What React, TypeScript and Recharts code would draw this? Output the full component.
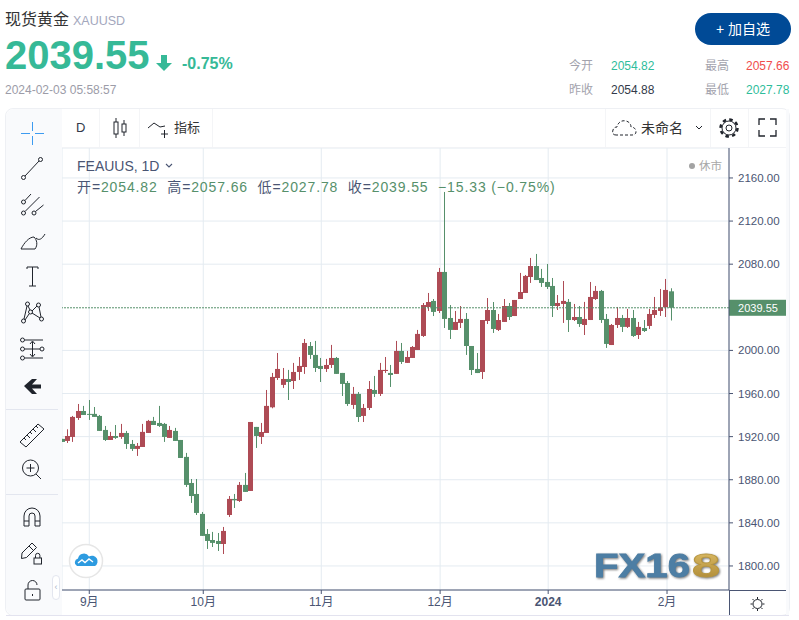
import React from "react";
import {
  ComposedChart,
  Bar,
  XAxis,
  YAxis,
  CartesianGrid,
  ReferenceLine,
} from "recharts";

const opens = [
  1917.9, 1916.0, 1919.7, 1937.3, 1943.8, 1941.1, 1941.1, 1939.2, 1926.2, 1916.9,
  1920.6, 1919.7, 1923.4, 1913.2, 1908.6, 1910.4, 1923.4, 1934.6, 1932.7, 1931.8,
  1918.8, 1925.3, 1916.9, 1901.2, 1877.0, 1866.8, 1848.3, 1829.7, 1824.1, 1823.2,
  1820.4, 1847.3, 1862.2, 1860.3, 1875.2, 1869.6, 1929.0, 1919.7, 1923.4, 1947.2,
  1974.4, 1968.0, 1973.5, 1971.6, 1980.0, 1984.6, 2004.1, 1995.8, 1985.6, 1982.8,
  1986.5, 1993.0, 1979.1, 1969.8, 1949.4, 1959.6, 1939.2, 1946.6, 1963.3, 1959.6,
  1980.9, 1979.1, 1978.2, 1999.5, 1988.4, 1993.0, 2000.4, 2013.4, 2040.3, 2045.9,
  2036.6, 2072.8, 2030.1, 2019.0, 2025.5, 2029.2, 2004.1, 1982.8, 1980.0, 2027.3,
  2037.5, 2019.0, 2026.4, 2041.2, 2031.9, 2047.7, 2053.3, 2068.1, 2078.3, 2067.2,
  2063.5, 2059.8, 2041.2, 2043.1, 2045.0, 2028.2, 2031.0, 2023.6, 2028.2, 2047.7,
  2055.2, 2029.2, 2005.0, 2023.6, 2030.1, 2021.8, 2030.1, 2014.3, 2020.8, 2022.7,
  2032.9, 2036.6, 2040.0, 2054.82,
];
const highs = [
  1917.9, 1926.8, 1939.2, 1950.3, 1948.5, 1954.0, 1947.5, 1940.1, 1929.9, 1924.4,
  1930.8, 1931.8, 1925.3, 1916.9, 1914.1, 1931.8, 1935.5, 1938.3, 1948.5, 1932.7,
  1929.9, 1928.1, 1916.9, 1904.9, 1880.7, 1880.7, 1850.1, 1834.3, 1831.6, 1830.6,
  1836.2, 1864.9, 1866.8, 1877.9, 1886.3, 1933.6, 1929.0, 1932.7, 1963.3, 1979.1,
  1997.6, 1983.7, 1981.9, 1988.4, 1993.9, 2010.6, 2007.8, 2008.8, 1993.0, 1992.1,
  2005.1, 1993.9, 1979.1, 1971.6, 1966.1, 1961.4, 1950.3, 1971.6, 1976.3, 1988.4,
  1993.9, 1986.5, 2008.8, 2006.9, 1999.5, 2004.1, 2019.0, 2044.0, 2053.3, 2047.7,
  2076.5, 2147.0, 2042.1, 2036.6, 2041.2, 2034.7, 2004.1, 1997.6, 2028.2, 2048.6,
  2044.9, 2033.8, 2047.7, 2044.0, 2046.8, 2071.9, 2070.0, 2085.8, 2089.5, 2075.6,
  2080.2, 2067.2, 2051.4, 2064.4, 2047.7, 2043.1, 2041.2, 2045.0, 2063.5, 2059.8,
  2056.1, 2033.8, 2024.5, 2040.3, 2032.9, 2038.5, 2037.5, 2026.4, 2028.2, 2038.5,
  2049.6, 2057.0, 2066.3, 2057.66,
];
const lows = [
  1915.1, 1914.1, 1915.1, 1935.5, 1940.1, 1935.5, 1938.3, 1925.3, 1916.0, 1916.9,
  1917.9, 1917.9, 1908.6, 1906.7, 1902.1, 1910.4, 1923.4, 1930.8, 1929.0, 1915.1,
  1918.8, 1916.0, 1900.2, 1873.3, 1858.5, 1847.3, 1827.9, 1815.8, 1817.6, 1813.9,
  1811.1, 1845.5, 1853.8, 1859.4, 1868.7, 1869.6, 1909.5, 1913.2, 1923.4, 1946.3,
  1972.6, 1965.2, 1954.0, 1964.2, 1972.6, 1978.2, 1992.1, 1980.0, 1970.7, 1980.0,
  1983.7, 1978.2, 1957.7, 1948.5, 1945.7, 1933.6, 1933.6, 1944.7, 1956.8, 1957.7,
  1979.1, 1966.1, 1978.2, 1987.4, 1988.4, 1993.0, 2000.4, 2012.5, 2036.6, 2031.9,
  2034.7, 2020.8, 2010.6, 2019.0, 2020.8, 1995.8, 1977.2, 1979.0, 1973.5, 2024.5,
  2016.2, 2018.0, 2026.4, 2028.2, 2031.9, 2047.7, 2053.3, 2062.6, 2065.3, 2058.9,
  2057.0, 2031.0, 2037.5, 2025.5, 2017.1, 2027.3, 2021.8, 2014.3, 2028.2, 2046.8,
  2025.5, 2002.3, 2005.0, 2020.8, 2017.1, 2020.8, 2012.5, 2010.6, 2017.1, 2019.9,
  2030.1, 2032.0, 2031.0, 2027.78,
];
const closes = [
  1915.1, 1920.6, 1938.3, 1943.8, 1940.1, 1940.4, 1938.3, 1925.3, 1916.9, 1920.6,
  1918.8, 1923.4, 1913.2, 1908.6, 1911.4, 1924.4, 1934.6, 1930.8, 1929.9, 1919.7,
  1926.2, 1916.0, 1900.2, 1875.2, 1864.9, 1849.2, 1827.9, 1823.2, 1821.4, 1820.4,
  1832.5, 1862.2, 1860.9, 1875.2, 1868.7, 1933.6, 1920.6, 1924.3, 1948.5, 1975.4,
  1982.8, 1973.5, 1970.7, 1980.0, 1985.6, 2006.9, 1995.8, 1983.7, 1982.8, 1986.5,
  1993.0, 1978.2, 1968.9, 1950.3, 1959.6, 1938.2, 1946.6, 1964.2, 1959.6, 1981.9,
  1981.9, 1977.2, 1999.5, 1989.3, 1993.9, 2003.2, 2015.3, 2042.1, 2044.9, 2035.7,
  2072.8, 2029.2, 2019.0, 2026.4, 2029.2, 2004.1, 1981.8, 1979.0, 2028.2, 2037.5,
  2019.9, 2028.2, 2041.2, 2031.0, 2046.8, 2054.2, 2069.1, 2078.3, 2065.3, 2062.6,
  2058.9, 2041.2, 2044.0, 2045.9, 2028.2, 2031.0, 2024.5, 2029.2, 2049.6, 2055.2,
  2028.2, 2006.0, 2023.6, 2030.1, 2021.8, 2030.1, 2013.4, 2021.8, 2018.0, 2033.8,
  2037.5, 2040.0, 2056.1, 2039.55,
];

const priceTicks = [1800, 1840, 1880, 1920, 1960, 2000, 2080, 2120, 2160];
const monthTicks = [5.1, 26.25, 48.15, 70.2, 90.25, 112.3];
const monthLabels = ["9月", "10月", "11月", "12月", "2024", "2月"];
const lastPrice = 2039.55;

const candles = opens.map((open, i) => ({
  i,
  open,
  close: closes[i],
  high: highs[i],
  low: lows[i],
  range: [lows[i], highs[i]],
}));

const UP = "#ae4b55";
const DOWN = "#56906b";
const AXIS = "#4a5573";
const GRID = "#e4ebf1";
const TEAL = "#36b997";
const FONT = '"Liberation Sans","Noto Sans CJK SC",sans-serif';

function Candle(props: any) {
  const { x, y, width, height, payload } = props;
  const color = payload.close >= payload.open ? UP : DOWN;
  const perUnit = height / (payload.high - payload.low);
  const top = y + (payload.high - Math.max(payload.open, payload.close)) * perUnit;
  const h = Math.max(1, Math.abs(payload.open - payload.close) * perUnit);
  const mid = Math.round(x + width / 2);
  return (
    <g>
      <rect x={mid} y={y} width={1} height={height} fill={color} />
      <rect x={mid - 2} y={top} width={5} height={h} fill={color} />
    </g>
  );
}

function MonthTick(props: any) {
  const { x, y, payload } = props;
  const label = monthLabels[monthTicks.indexOf(payload.value)];
  return (
    <text
      x={x}
      y={y + 10}
      textAnchor="middle"
      fontSize={12}
      fontWeight={label === "2024" ? 700 : 400}
      fill={AXIS}
    >
      {label}
    </text>
  );
}

function PriceTag(props: any) {
  const { viewBox } = props;
  const left = viewBox.x + viewBox.width;
  return (
    <g>
      <rect x={left} y={viewBox.y - 8} width={58} height={16} fill={DOWN} />
      <text x={left + 29} y={viewBox.y + 4} textAnchor="middle" fontSize={11} fill="#fff">
        {lastPrice.toFixed(2)}
      </text>
    </g>
  );
}

function Txt(props: any) {
  const { x, y, size = 12, color = "#333", weight = 400, spacing = 0, children } = props;
  return (
    <div
      style={{
        position: "absolute",
        left: x,
        top: y - 12,
        height: 24,
        lineHeight: "24px",
        fontSize: size,
        color,
        fontWeight: weight,
        letterSpacing: spacing,
        whiteSpace: "pre",
      }}
    >
      {children}
    </div>
  );
}

function Icons() {
  const s = { fill: "none", stroke: "#20242c", strokeWidth: 1 };
  return (
    <svg
      width={799}
      height={620}
      style={{ position: "absolute", left: 0, top: 0, pointerEvents: "none" }}
    >
      <defs>
        <linearGradient id="gold" x1="0" y1="0" x2="0" y2="1">
          <stop offset="0" stopColor="#e0c06a" />
          <stop offset="1" stopColor="#a98430" />
        </linearGradient>
      </defs>

      {/* watermark */}
      <g style={{ filter: "drop-shadow(1px 1px 1px #777)" }}>
        <text x={594} y={577} fontSize={33} fontWeight={700} fill="#4d7ea4" textLength={96} lengthAdjust="spacingAndGlyphs" stroke="#4d7ea4" strokeWidth={0.8}>
          FX16
        </text>
        <text x={692} y={577} fontSize={33} fontWeight={700} fill="url(#gold)" textLength={28} lengthAdjust="spacingAndGlyphs" stroke="#b8973f" strokeWidth={0.8}>
          8
        </text>
      </g>

      {/* cloud badge */}
      <circle cx={86} cy={561} r={16.5} fill="#fff" stroke="#e6e6e6" strokeWidth={1.5} />
      <path d="M77 566 a4 4 0 0 1 1-7.5 a6 6 0 0 1 11-2 a5 5 0 0 1 6 9.5 z" fill="#2d9be0" />
      <path d="M78 563 l4-3 l3 2.5 l4-3.5 l4 3" fill="none" stroke="#fff" strokeWidth={1.4} />

      {/* left tools */}
      <g stroke="#3d9bf0" strokeWidth={1}>
        <path d="M21 133.5h9M35 133.5h9M32.5 122v9M32.5 136v9" />
      </g>
      <g {...s}>
        <circle cx={23.5} cy={177.5} r={2} />
        <circle cx={40.5} cy={159.5} r={2} />
        <path d="M25 176 39 161" />
        <circle cx={23.5} cy={213} r={2} /><circle cx={23.5} cy={202} r={2} /><circle cx={34} cy={213} r={2} />
        <path d="M25 211.5 39.5 197M25 200.5 31 194M35.5 211.5 43.5 205" />
        <path d="M21 249h14c3-4 2-9-1-12c-5 0-10 6-13 12zM36 238c3 3 6 1 9-4" />
        <path d="M27 267h11M32.5 267v19M29 286h7M27 267v2M38 267v2" />
        <circle cx={23.5} cy={321} r={2} /><circle cx={27.5} cy={304} r={2} /><circle cx={38.5} cy={305} r={2} /><circle cx={30.5} cy={312} r={2} /><circle cx={41.5} cy={319} r={2} />
        <path d="M24 319 27 306M28 306 30 310M32 311 37 306M39 307 41 317M32 313 40 318M25 320 29 314" />
        <circle cx={22.5} cy={340} r={2} /><circle cx={22.5} cy={349} r={2} /><circle cx={22.5} cy={358} r={2} /><circle cx={42} cy={349} r={2} />
        <path d="M25 340h18M25 349h15M25 358h18M32.5 342v14M30 344l2.5-3 2.5 3M30 354l2.5 3 2.5-3" />
        <path d="M20 442 38 424 44 429 26 447zM24 438l2 2M27 435l3 3M30 432l2 2M33 429l3 3M36 426l2 2" />
        <circle cx={30.5} cy={468} r={8} />
        <path d="M36 474 41 479M26.5 468h8M30.5 464v8" />
        <path d="M24 526v-10a8 8 0 0 1 16 0v10M24 521h5M35 521h5M24 526h5v-10a3 3 0 0 1 6 0v10h5" />
        <path d="M22 553l10-10 4.5 4.5-10 10-5 1zM29 546l4.5 4.5" />
        <rect x={34} y={558} width={7.5} height={6} /><path d="M35.5 558v-2.5a2.2 2.2 0 0 1 4.4 0v2.5" />
        <rect x={25} y={589} width={15} height={11} rx={1} />
        <path d="M28 589v-4a4.5 4.5 0 0 1 9 0" />
        <path d="M32.5 594v2" />
      </g>
      <path d="M24 386 32 379h5l-5 5.5h9v4h-9l5 5.5h-5z" fill="#20242c" />

      {/* top tools */}
      <g {...s}>
        <rect x={114} y={122} width={4} height={12} /><path d="M116 118v4M116 134v4" />
        <rect x={122} y={124} width={4} height={8} /><path d="M124 120v4M124 132v4" />
        <path d="M148 128l6-5 6 4 5-1 M161 134h7M164.5 130v8" />
        <path d="M616 135c-3 0-4-2-3-5c.5-2 2-3 4-3c1-5 5-7 9-6c4 1 5 4 5 6c3 0 5 2 5 5c0 2-2 3-4 3z" strokeDasharray="3 2" />
        <path d="M696 126l3 3 3-3" />
        <circle cx={729} cy={128} r={3} />
        <circle cx={729} cy={128} r={7} />
        <circle cx={729} cy={128} r={8.5} strokeWidth={2.5} strokeDasharray="3.5 3.17" />
        <path d="M759 125v-6h6M770 119h6v6M776 130v6h-6M765 136h-6v-6" strokeWidth={1.3} />
      </g>
      <g stroke={s.stroke} fill="none">
        <circle cx={757.5} cy={604} r={4.5} />
        <path d="M757.5 597v2M757.5 609v2M750.5 604h2M762.5 604h2M752.5 599l1.5 1.5M761 607.5l1.5 1.5M752.5 609l1.5-1.5M761 600.5l1.5-1.5" />
      </g>
      <path d="M166 164l3 3 3-3" fill="none" stroke={AXIS} strokeWidth={1.1} />

      {/* price arrow */}
      <path d="M161 55h6v8h5l-8 8-8-8h5z" fill={TEAL} />
    </svg>
  );
}

export default function App() {
  return (
    <div
      style={{
        position: "absolute",
        left: 0,
        top: 0,
        width: 799,
        height: 620,
        overflow: "hidden",
        background: "#fff",
        fontFamily: FONT,
      }}
    >
      {/* header */}
      <Txt x={5} y={20} size={16} color="#333">现货黄金</Txt>
      <Txt x={73} y={21} size={12.5} color="#a3a7bd">XAUUSD</Txt>
      <Txt x={5} y={55} size={40} color={TEAL} weight={700}>2039.55</Txt>
      <Txt x={182} y={64} size={16} color={TEAL} weight={700}>-0.75%</Txt>
      <Txt x={5} y={90} size={12} color="#9c9ca8">2024-02-03 05:58:57</Txt>
      <div
        style={{
          position: "absolute",
          left: 695,
          top: 13,
          width: 96,
          height: 32,
          borderRadius: 16,
          background: "#004a96",
          color: "#fff",
          fontSize: 14,
          lineHeight: "32px",
          textAlign: "center",
        }}
      >
        + 加自选
      </div>
      <Txt x={569} y={66} color="#a3a3ad">今开</Txt>
      <Txt x={611} y={66} color="#2fbd9b">2054.82</Txt>
      <Txt x={705} y={66} color="#a3a3ad">最高</Txt>
      <Txt x={746} y={66} color="#f04d4d">2057.66</Txt>
      <Txt x={569} y={90} color="#a3a3ad">昨收</Txt>
      <Txt x={611} y={90} color="#333a4a">2054.88</Txt>
      <Txt x={705} y={90} color="#a3a3ad">最低</Txt>
      <Txt x={746} y={90} color="#2fbd9b">2027.78</Txt>

      {/* panel */}
      <div
        style={{
          position: "absolute",
          left: 5,
          top: 108,
          width: 785,
          height: 508,
          boxSizing: "border-box",
          border: "1px solid #eef0f4",
          borderRadius: 8,
          background: "#fff",
        }}
      />

      <div style={{ position: "absolute", left: 62, top: 148 }}>
        <ComposedChart
          width={725}
          height={468}
          data={candles}
          margin={{ top: 0, right: 0, bottom: 0, left: 0 }}
        >
          <CartesianGrid stroke={GRID} strokeWidth={1} />
          <XAxis
            dataKey="i"
            type="number"
            domain={[0.04, 123.8]}
            allowDataOverflow
            ticks={monthTicks}
            interval={0}
            height={26}
            stroke={AXIS}
            tickSize={4}
            tick={MonthTick}
          />
          <YAxis
            type="number"
            orientation="right"
            domain={[1777.7, 2187.8]}
            allowDataOverflow
            ticks={priceTicks}
            interval={0}
            width={58}
            stroke={AXIS}
            tickSize={4}
            tickMargin={5}
            tick={{ fontSize: 11.5, fill: AXIS }}
            tickFormatter={(v: number) => v.toFixed(2)}
          />
          <ReferenceLine
            y={lastPrice}
            stroke={DOWN}
            strokeDasharray="2 1"
            label={PriceTag}
          />
          <Bar
            dataKey="range"
            barSize={5}
            shape={Candle}
            isAnimationActive={false}
          />
        </ComposedChart>
      </div>

      {/* axis extensions */}
      <div style={{ position: "absolute", left: 729, top: 590, width: 57, height: 1, background: AXIS }} />
      <div style={{ position: "absolute", left: 729, top: 590, width: 1, height: 26, background: AXIS }} />

      {/* toolbars */}
      <div style={{ position: "absolute", left: 6, top: 109, width: 56, height: 506, background: "#f9fafc", borderRadius: "8px 0 0 8px" }} />
      <div style={{ position: "absolute", left: 6, top: 409, width: 52, height: 1, background: "#e3e6ef" }} />
      <div style={{ position: "absolute", left: 6, top: 494, width: 52, height: 1, background: "#e3e6ef" }} />
      <div style={{ position: "absolute", left: 52, top: 575, width: 8, height: 25, boxSizing: "border-box", background: "#fff", border: "1px solid #e3e6ef", borderRadius: 4, color: "#a9b4c8", fontSize: 9, lineHeight: "23px", textAlign: "center" }}>‹</div>
      <div style={{ position: "absolute", left: 62, top: 147, width: 727, height: 1, background: "#f2f3f6" }} />
      {[99, 139, 212, 605, 710, 748].map((x) => (
        <div key={x} style={{ position: "absolute", left: x, top: 109, width: 1, height: 38, background: "#f4f5f7" }} />
      ))}
      <div style={{ position: "absolute", left: 786, top: 109, width: 3, height: 506, background: "#f9fafc" }} />
      <div style={{ position: "absolute", left: 6, top: 615, width: 783, height: 1, background: "#e3e3ef" }} />

      <Txt x={76} y={128} size={13} color="#333a4a">D</Txt>
      <Txt x={174} y={128} size={13} color="#333">指标</Txt>
      <Txt x={641} y={128} size={14} color="#333">未命名</Txt>

      {/* chart legend */}
      <Txt x={77} y={166} size={14} color={AXIS}>FEAUUS, 1D</Txt>
      <Txt x={77} y={187} size={14} spacing={0.88} color={AXIS}>
        开=<span style={{ color: DOWN }}>2054.82</span>  高=<span style={{ color: DOWN }}>2057.66</span>  低=<span style={{ color: DOWN }}>2027.78</span>  收=<span style={{ color: DOWN }}>2039.55</span>  <span style={{ color: DOWN }}>−15.33 (−0.75%)</span>
      </Txt>
      <div style={{ position: "absolute", left: 689, top: 163, width: 6, height: 6, borderRadius: 3, background: "#a3a3a3" }} />
      <Txt x={699} y={166} size={11.5} color="#a8a8a8">休市</Txt>

      <Icons />
    </div>
  );
}
